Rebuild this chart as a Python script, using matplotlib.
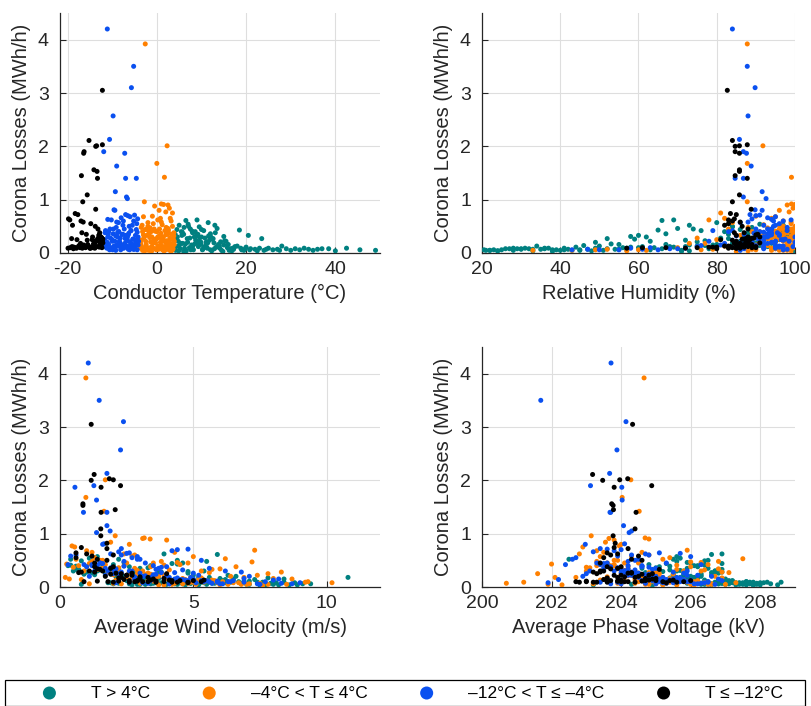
import numpy as np
import matplotlib
matplotlib.use("Agg")
import matplotlib.pyplot as plt
from matplotlib.patches import Rectangle

plt.rcParams['font.family'] = ['Liberation Sans', 'DejaVu Sans']
plt.rcParams['axes.unicode_minus'] = False

# T > 4°C  (temperature, humidity, wind, voltage, losses)
teal_temp = [49.0, 45.5, 42.5, 40.0, 38.5, 37.0, 36.0, 35.0, 34.0, 33.0, 32.0, 31.0, 30.0, 29.0, 28.0, 27.0,
             26.0, 25.0, 24.0, 23.5, 23.0, 22.0, 21.0, 20.5, 20.0, 19.0, 18.5, 18.0, 17.0, 16.0, 15.5, 15.0,
             14.0, 13.5, 13.0, 12.5, 12.0, 11.5, 11.0, 10.5, 10.0, 9.5, 9.0, 8.5, 8.0, 7.5, 7.0, 6.5, 6.0,
             5.5, 5.0, 4.5, 4.3, 4.8, 5.2, 5.8, 6.3, 6.8, 7.3, 7.8, 8.2, 8.8, 9.3, 9.8, 10.3, 10.8, 11.3,
             11.8, 12.3, 12.8, 13.3, 13.8, 14.5, 15.2, 16.5, 17.5, 4.6, 5.4, 6.1, 7.1, 8.6, 9.6, 4.2, 14.8,
             16.8, 19.5, 22.5, 10.2, 6.6, 11.2, 12.0, 27.5,
             4.4, 5.0, 5.6, 6.2, 6.9, 7.4, 8.0, 8.7, 9.2, 9.9, 10.6, 11.4, 12.1, 12.9, 13.7, 14.3, 15.8, 17.2,
             18.8, 20.8, 4.9, 5.7, 6.4, 7.6, 8.4, 9.1, 10.0, 11.0, 12.6, 14.1, 4.1, 6.0, 7.9, 9.4, 11.6, 13.1,
             15.0, 16.2, 19.8, 24.5]
teal_rh = [22, 25, 28, 24, 30, 27, 33, 21, 35, 31, 38, 26, 40, 29, 34, 42,
           23, 37, 45, 52, 36, 47, 32, 60, 44, 39, 65, 50, 41, 55, 63, 58,
           46, 70, 73, 59, 67, 80, 49, 76, 62, 84, 69, 53, 88, 74, 91, 66, 95,
           82, 97, 99, 93, 86, 78, 90, 71, 83, 64, 79, 57, 87, 68, 75, 54, 81, 61,
           72, 48, 85, 58, 67, 43, 77, 52, 61, 98, 94, 89, 84, 96, 92, 100, 38,
           33, 28, 24, 45, 73, 56, 20.5, 22,
           96, 91, 88, 99, 85, 93, 72, 97, 83, 80, 69, 90, 94, 66, 75, 87, 60, 55,
           49, 41, 100, 98, 92, 63, 95, 89, 86, 77, 81, 57, 99, 71, 97, 84, 92, 90,
           73, 51, 36, 30]
teal_wind = [3.2, 4.1, 5.6, 2.7, 6.2, 3.8, 4.9, 7.1, 2.2, 5.3, 6.8, 1.9, 4.4, 8.1, 3.1, 5.8,
             2.6, 7.6, 4.0, 1.2, 6.4, 3.5, 8.8, 0.6, 5.1, 9.4, 4.4, 2.9, 6.0, 3.7, 5.0, 1.6,
             7.3, 2.4, 0.4, 4.8, 3.3, 1.4, 6.6, 2.0, 5.4, 0.8, 3.9, 7.8, 2.6, 4.6, 1.1, 5.9, 3.0,
             0.3, 2.2, 4.2, 3.6, 6.3, 1.8, 5.2, 7.0, 2.8, 4.3, 8.4, 3.4, 1.5, 6.1, 2.3, 5.7, 3.8, 7.4,
             0.9, 4.7, 2.1, 6.9, 3.2, 5.5, 1.3, 4.5, 2.5, 0.5, 10.8, 5.5, 4.4, 3.4, 4.8, 2.9, 7.7,
             8.6, 3.0, 5.2, 2.0, 8.9, 6.3, 4.6, 0.8,
             1.7, 3.1, 0.7, 5.0, 2.4, 1.0, 4.1, 3.3, 2.0, 6.0, 7.1, 2.7, 1.4, 5.4, 4.6, 2.9, 6.7, 7.9,
             5.8, 4.3, 8.2, 0.6, 3.5, 9.1, 1.9, 4.0, 1.2, 6.2, 3.7, 8.4, 2.2, 7.5, 0.4, 5.6, 2.8, 1.6,
             6.5, 8.0, 3.6, 4.9]
teal_volt = [207.9, 208.3, 208.6, 207.6, 207.2, 208.1, 207.4, 207.0, 206.9, 207.8, 206.6, 207.3, 206.4, 207.5, 206.8, 205.9,
             207.1, 206.2, 205.6, 206.7, 207.7, 205.3, 206.5, 206.9, 205.8, 207.0, 206.3, 205.4, 206.0, 205.2, 206.6, 205.7,
             206.1, 205.9, 205.5, 206.8, 205.0, 205.6, 206.3, 204.8, 205.8, 206.4, 206.9, 205.4, 205.1, 206.0, 205.7, 206.6, 204.6,
             206.2, 202.5, 205.3, 205.0, 204.9, 205.6, 206.1, 205.2, 204.7, 206.5, 205.9, 206.8, 205.4, 207.1, 204.5, 206.3, 205.1, 206.7,
             205.8, 207.3, 205.0, 206.2, 206.9, 207.5, 205.5, 206.4, 207.2, 206.7, 206.0, 205.6, 206.5, 206.1, 205.2, 204.3, 207.8,
             208.0, 207.4, 208.5, 206.8, 203.2, 207.6, 207.0, 206.3,
             206.3, 205.7, 206.8, 205.3, 206.0, 206.9, 207.0, 205.5, 206.5, 206.2, 207.2, 205.9, 206.7, 207.4, 206.4, 205.8, 207.6, 207.9,
             208.2, 207.3, 206.6, 205.4, 206.1, 207.7, 205.6, 206.3, 206.9, 205.0, 206.6, 207.1, 205.9, 204.9, 206.4, 205.7, 206.8, 206.2,
             207.0, 206.5, 208.0, 206.9]
teal_loss = [0.05, 0.06, 0.09, 0.04, 0.08, 0.08, 0.07, 0.05, 0.07, 0.09, 0.06, 0.08, 0.05, 0.08, 0.13, 0.07,
             0.06, 0.09, 0.05, 0.27, 0.09, 0.07, 0.08, 0.33, 0.11, 0.06, 0.43, 0.13, 0.09, 0.16, 0.22, 0.31,
             0.14, 0.46, 0.52, 0.26, 0.36, 0.57, 0.20, 0.42, 0.30, 0.49, 0.62, 0.17, 0.38, 0.45, 0.54, 0.61, 0.35,
             0.40, 0.52, 0.44, 0.12, 0.22, 0.08, 0.18, 0.05, 0.27, 0.10, 0.15, 0.06, 0.32, 0.12, 0.21, 0.07, 0.28, 0.09,
             0.24, 0.04, 0.19, 0.11, 0.16, 0.05, 0.23, 0.08, 0.12, 0.30, 0.18, 0.48, 0.50, 0.40, 0.29, 0.05, 0.03,
             0.04, 0.05, 0.04, 0.06, 0.04, 0.10, 0.06, 0.05,
             0.25, 0.14, 0.33, 0.09, 0.20, 0.28, 0.12, 0.24, 0.35, 0.16, 0.11, 0.19, 0.30, 0.08, 0.13, 0.21, 0.10, 0.07,
             0.09, 0.06, 0.04, 0.39, 0.17, 0.06, 0.30, 0.22, 0.44, 0.14, 0.27, 0.09, 0.35, 0.03, 0.41, 0.18, 0.32, 0.38,
             0.15, 0.05, 0.08, 0.07]

# -4°C < T <= 4°C
orange_temp = [-2.6, 2.3, 0.0, 1.7, -2.8, 1.0, 2.5, -0.5, 1.5, 2.8, 0.5, 2.0, -1.0, 3.5, -3.0, 0.8,
               3.2, -2.0, 1.2, -1.5, 2.6, -3.5, 0.2, 3.8, -0.8, 1.8, -2.3, 2.9, -1.8, 0.6, 3.0, -3.2,
               1.4, -0.3, 2.2, -2.5, 0.9, 3.3, -1.2, 1.9, -3.7, 0.3, 2.7, -0.6, 3.6, -2.9, 1.1, -1.9,
               2.4, 0.1, -3.4, 3.9, -1.1, 1.6, -2.2, 2.1, -0.1, 3.4, -3.9, 0.7, 2.9, -2.7, 1.3, -1.4,
               3.1, 0.4, -3.1, 2.2, -0.9, 1.7, -2.4, 3.7, -1.6, 0.0, 2.5, -3.3, 1.0, 3.5, -0.4, 2.0,
               -2.1, 0.9, 3.0, -1.3, 1.5, -3.6, 2.6, 0.2, -0.7, 3.8,
               -3.8, -3.0, -2.2, -1.4, -0.6, 0.2, 1.0, 1.8, 2.6, 3.4, -3.5, -2.7, -1.9, -1.1, -0.3, 0.5, 1.3, 2.1,
               2.9, 3.7, -3.2, -2.4, -1.6, -0.8, 0.0, 0.8, 1.6, 2.4, 3.2, 3.9, -3.9, -2.0, -0.2, 1.4, 3.0, -1.2,
               0.6, 2.2, -2.6, 3.6]
orange_rh = [87.8, 91.8, 87.8, 99.1, 87.8, 99.1, 98.0, 100, 100, 99.5, 96, 98.5, 90, 81, 95, 82,
             97, 84, 92, 93, 99, 88, 78, 96, 99, 94, 86, 75, 97, 83, 100, 91,
             95, 80, 98, 94, 90, 99.5, 87, 100, 77, 97, 93, 100, 89, 98, 85, 96,
             79, 99, 92, 100, 94, 88, 100, 91, 76, 97, 99, 95, 62, 57, 49, 43,
             33, 52, 60, 70, 73, 86, 82, 100, 98, 93, 100, 96, 99, 97, 95, 92,
             99, 100, 94, 89, 97, 100, 95, 91, 98, 99,
             99, 100, 97, 98, 96, 100, 99, 94, 100, 98, 100, 95, 99, 92, 100, 97, 90, 100,
             99, 96, 98, 100, 93, 99, 100, 95, 100, 97, 99, 100, 88, 100, 99, 96, 100, 85,
             98, 100, 97, 94]
orange_wind = [0.97, 1.70, 0.97, 1.65, 2.07, 3.16, 3.38, 4.00, 3.1, 1.9, 2.6, 0.45, 7.3, 0.55, 1.0, 4.3,
               2.8, 5.0, 6.2, 7.2, 0.25, 3.8, 2.4, 6.6, 1.3, 4.5, 5.7, 8.3, 2.2, 3.5, 7.8, 0.7,
               5.3, 2.9, 6.9, 4.0, 8.7, 1.6, 3.3, 9.3, 2.7, 5.9, 4.7, 6.4, 3.0, 1.8, 10.2, 7.0,
               2.0, 4.9, 5.5, 8.0, 0.9, 3.7, 6.1, 2.5, 4.6, 8.5, 3.2, 1.4, 5.1, 3.9, 2.3, 6.8,
               4.2, 7.5, 1.1, 3.6, 0.2, 9.2, 2.1, 0.35, 3.4, 5.6, 4.4, 0.6, 2.7, 1.5, 3.9, 6.0,
               4.8, 0.5, 1.2, 2.4, 7.4, 5.3, 6.5, 3.1, 2.6, 4.1,
               2.1, 1.5, 4.8, 3.0, 2.5, 5.7, 2.0, 6.3, 1.0, 4.0, 3.4, 6.7, 1.7, 4.4, 3.6, 2.9, 7.1, 1.2,
               5.2, 3.3, 7.8, 4.6, 2.2, 5.0, 1.3, 3.7, 5.8, 2.8, 6.0, 3.9, 0.8, 1.6, 4.3, 2.6, 4.9, 7.6,
               3.5, 2.0, 1.1, 5.4]
orange_volt = [204.66, 204.28, 204.03, 204.52, 203.14, 204.69, 204.80, 203.80, 203.65, 203.55, 204.00, 203.95, 205.9, 202.9, 203.3, 203.5,
               204.8, 203.4, 207.5, 206.0, 202.0, 206.8, 202.8, 204.2, 205.4, 206.5, 205.6, 206.9, 203.1, 204.5, 205.1, 203.8,
               206.3, 201.6, 204.9, 204.3, 205.7, 203.7, 204.1, 206.1, 202.1, 205.3, 204.4, 206.7, 203.9, 205.0, 206.4, 204.7,
               200.7, 201.2, 205.8, 204.6, 203.0, 205.2, 206.2, 203.6, 204.0, 207.0, 205.5, 204.2, 201.9, 202.3, 205.0, 204.8,
               206.6, 204.4, 203.2, 205.9, 202.7, 205.4, 203.4, 204.9, 206.0, 207.1, 206.3, 205.2, 204.3, 203.9, 205.6, 206.8,
               204.1, 203.0, 204.6, 203.3, 205.0, 206.9, 207.3, 205.8, 204.5, 206.4,
               204.5, 203.9, 205.3, 204.2, 203.6, 205.7, 204.8, 206.0, 203.5, 205.1, 204.0, 206.4, 203.8, 205.5, 204.7, 204.1, 206.6, 203.3,
               205.8, 204.9, 206.5, 205.4, 204.4, 205.9, 203.7, 204.6, 206.2, 204.0, 205.6, 204.3, 203.5, 203.8, 205.0, 204.2, 205.2, 206.1,
               204.9, 204.4, 203.6, 205.3]
orange_loss = [3.92, 2.01, 1.68, 1.42, 0.96, 0.92, 0.90, 0.88, 0.91, 0.84, 0.80, 0.77, 0.69, 0.75, 0.68, 0.65,
               0.60, 0.57, 0.53, 0.47, 0.43, 0.48, 0.62, 0.38, 0.55, 0.42, 0.33, 0.28, 0.36, 0.45, 0.25, 0.40,
               0.30, 0.25, 0.18, 0.22, 0.15, 0.35, 0.12, 0.10, 0.18, 0.08, 0.14, 0.20, 0.07, 0.28, 0.08, 0.05,
               0.07, 0.09, 0.12, 0.16, 0.30, 0.04, 0.10, 0.19, 0.06, 0.05, 0.24, 0.33, 0.05, 0.04, 0.06, 0.05,
               0.05, 0.07, 0.06, 0.10, 0.18, 0.09, 0.13, 0.15, 0.38, 0.27, 0.46, 0.52, 0.58, 0.50, 0.41, 0.34,
               0.45, 0.37, 0.65, 0.40, 0.22, 0.17, 0.08, 0.30, 0.26, 0.32,
               0.10, 0.34, 0.07, 0.21, 0.45, 0.13, 0.27, 0.05, 0.38, 0.16, 0.24, 0.08, 0.42, 0.11, 0.19, 0.31, 0.06, 0.48,
               0.14, 0.26, 0.05, 0.16, 0.29, 0.09, 0.40, 0.20, 0.12, 0.35, 0.04, 0.22, 0.14, 0.50, 0.07, 0.28, 0.18, 0.03,
               0.11, 0.23, 0.44, 0.09]

# -12°C < T <= -4°C
blue_temp = [-11.1, -5.2, -5.7, -9.8, -10.6, -11.9, -7.2, -9.0, -7.0, -4.6, -9.3, -6.8, -6.6, -9.6, -9.4,
             -7.0, -6.5, -5.0, -11.0, -8.0, -6.0, -4.5, -8.6, -7.5, -5.5, -10.2, -4.3, -9.0, -6.2,
             -11.5, -10.8, -9.7, -8.8, -7.8, -6.9, -5.8, -4.8, -11.7, -10.4, -9.2, -8.3, -7.3, -6.3, -5.3, -4.2,
             -11.3, -10.0, -8.9, -7.7, -6.7, -5.6, -4.7, -11.8, -10.6, -9.5, -8.4, -7.2, -6.1, -5.1, -4.4,
             -11.2, -9.9, -8.1, -6.4, -5.4, -7.9, -10.9, -9.1, -6.6, -4.9, -8.5, -11.6, -5.9, -7.6, -10.3,
             -4.1, -9.4, -6.9, -8.7, -5.2,
             -11.8, -11.0, -10.2, -9.4, -8.6, -7.8, -7.0, -6.2, -5.4, -4.6, -11.4, -10.6, -9.8, -9.0, -8.2, -7.4,
             -6.6, -5.8, -5.0, -4.2, -11.6, -10.8, -10.0, -9.2, -8.4, -7.6, -6.8, -6.0, -5.2, -4.4, -9.6, -7.1,
             -5.6, -10.5, -8.0, -4.8, -6.4, -11.1, -8.8, -5.0]
blue_rh = [84.0, 87.8, 89.8, 88.0, 85.8, 86.8, 87.6, 88.8, 84.7, 86.8, 91.6, 86.8, 92.6, 89.8, 91.6,
           88.5, 90.0, 91.0, 94.0, 93.0, 95.0, 96.0, 86.0, 97.0, 92.0, 99.0, 89.0, 88.0, 94.5,
           79.0, 83.0, 90.0, 95.5, 87.0, 92.5, 98.0, 93.5, 96.5, 91.0, 85.0, 100, 94.0, 89.5, 97.5, 92.0,
           88.0, 95.0, 81.0, 99.5, 90.5, 86.0, 94.0, 75.0, 68.0, 72.0, 78.0, 82.0, 65.0, 61.0, 55.0,
           58.0, 50.0, 43.0, 47.0, 70.0, 92.0, 96.0, 98.0, 100, 96.5, 93.5, 92.0, 88.0, 95.0, 86.5,
           98.5, 63.0, 76.0, 97.0, 94.5,
           90, 93, 87, 95, 91, 85, 96, 92, 89, 94, 86, 97, 93, 90, 88, 95,
           92, 84, 96, 91, 94, 89, 97, 86, 93, 90, 95, 88, 98, 92, 96, 91,
           87, 93, 85, 97, 94, 89, 92, 95]
blue_wind = [1.06, 1.47, 2.38, 2.27, 1.76, 1.27, 0.56, 1.37, 0.88, 1.76, 1.76, 1.88, 1.37, 1.65, 1.60,
             2.3, 4.4, 4.8, 2.5, 2.2, 4.2, 2.7, 2.9, 0.6, 3.0, 1.9, 2.6, 0.4, 5.3,
             0.3, 1.2, 3.2, 4.0, 5.6, 6.2, 0.9, 3.6, 2.0, 6.8, 4.6, 7.1, 1.5, 3.8, 5.0, 8.2,
             3.4, 5.2, 2.8, 6.5, 4.3, 7.7, 1.1, 4.8, 3.1, 5.9, 1.7, 4.9, 8.7, 3.3, 6.0,
             2.6, 7.4, 4.1, 5.7, 2.1, 9.0, 3.7, 2.4, 1.3, 5.5, 3.5, 4.5, 6.9, 2.9, 5.4,
             4.0, 6.3, 3.0, 8.0, 2.3,
             3.4, 1.8, 5.1, 2.5, 1.4, 4.3, 2.0, 5.6, 3.0, 1.6, 2.8, 6.1, 1.9, 4.6, 2.3, 6.9,
             3.5, 1.2, 5.9, 2.6, 1.0, 3.9, 2.2, 7.5, 4.1, 1.7, 5.3, 3.2, 8.3, 2.4, 4.7, 3.8,
             4.4, 1.5, 6.4, 3.6, 2.1, 3.1, 2.7, 5.0]
blue_volt = [203.71, 201.69, 204.14, 203.88, 203.67, 203.12, 204.02, 204.03, 203.68, 203.70, 204.07, 204.30, 204.23, 204.10, 202.97,
             203.4, 204.0, 203.6, 205.7, 203.2, 203.8, 202.7, 206.0, 204.8, 202.6, 204.7, 205.1, 203.9, 204.4,
             202.4, 204.2, 205.3, 204.6, 203.5, 205.9, 206.3, 204.9, 203.0, 205.5, 204.4, 206.6, 203.3, 204.8, 205.8, 206.8,
             204.5, 206.2, 203.6, 205.4, 204.1, 205.7, 202.9, 204.9, 205.2, 203.9, 204.3, 205.6, 206.1, 204.7, 205.0,
             203.4, 204.0, 203.7, 205.3, 201.9, 206.4, 205.0, 204.2, 203.1, 206.9, 204.6, 205.8, 205.2, 204.5, 206.5,
             205.9, 205.1, 202.2, 206.0, 204.3,
             204.6, 203.8, 205.5, 204.2, 203.6, 205.1, 204.0, 205.9, 204.5, 203.5, 204.8, 206.2, 203.9, 205.3, 204.3, 206.5,
             204.7, 203.4, 205.8, 204.1, 203.7, 205.0, 204.4, 206.7, 205.2, 203.9, 205.6, 204.9, 206.3, 204.6, 205.4, 204.0,
             205.7, 203.6, 206.0, 204.8, 204.2, 205.0, 204.1, 205.5]
blue_loss = [4.20, 3.50, 3.10, 2.57, 2.13, 1.90, 1.87, 1.63, 1.40, 1.40, 1.15, 1.05, 1.02, 0.81, 0.80,
             0.72, 0.70, 0.71, 0.63, 0.66, 0.68, 0.55, 0.57, 0.60, 0.52, 0.62, 0.64, 0.58, 0.50,
             0.42, 0.40, 0.45, 0.38, 0.35, 0.30, 0.42, 0.33, 0.25, 0.28, 0.32, 0.20, 0.45, 0.37, 0.26, 0.15,
             0.18, 0.22, 0.15, 0.12, 0.27, 0.10, 0.20, 0.12, 0.08, 0.09, 0.22, 0.18, 0.06, 0.07, 0.06,
             0.09, 0.06, 0.06, 0.07, 0.08, 0.08, 0.35, 0.48, 0.30, 0.12, 0.40, 0.14, 0.16, 0.52, 0.10,
             0.22, 0.10, 0.14, 0.13, 0.60,
             0.12, 0.30, 0.08, 0.22, 0.40, 0.15, 0.33, 0.10, 0.26, 0.44, 0.19, 0.06, 0.36, 0.14, 0.28, 0.09,
             0.23, 0.42, 0.11, 0.30, 0.38, 0.16, 0.25, 0.05, 0.18, 0.35, 0.12, 0.21, 0.07, 0.39, 0.13, 0.27,
             0.17, 0.45, 0.10, 0.24, 0.34, 0.20, 0.30, 0.15]

# T <= -12°C
black_temp = [-12.2, -15.2, -12.2, -13.7, -13.5, -16.4, -16.3, -14.1, -13.4, -16.9, -13.3, -15.6, -16.6, -13.7,
              -19.8, -19.5, -18.3, -17.7, -17.0, -16.5, -18.9, -14.8, -13.8, -13.2, -12.8, -16.8, -13.0,
              -19.4, -18.6, -17.9, -17.2, -16.2, -15.5, -14.6, -14.0, -13.6, -13.1, -12.6, -12.3, -12.1,
              -15.0, -16.0, -14.3, -13.9, -12.9, -12.5, -17.5, -18.0, -14.5, -12.4, -19.1, -15.8,
              -19.9, -19.0, -18.2, -17.4, -16.7, -15.9, -15.3, -14.7, -14.2, -13.8, -13.4, -13.0, -12.7,
              -12.3, -12.1, -18.7, -17.1, -15.6, -14.4, -13.3, -12.9, -12.6, -16.4, -12.2, -14.9]
black_rh = [82.7, 84.0, 87.8, 84.7, 85.8, 85.8, 84.7, 85.8, 85.8, 84.7, 87.8, 85.8, 84.0, 88.8,
            84.5, 83.0, 83.5, 85.0, 84.0, 86.0, 82.0, 83.0, 86.5, 88.0, 87.0, 84.5, 85.0,
            86.0, 79.0, 81.0, 75.0, 88.0, 89.0, 80.0, 87.5, 86.0, 89.5, 84.5, 90.0, 86.5,
            57.0, 61.0, 67.0, 72.0, 78.0, 91.0, 87.0, 85.0, 88.5, 83.5, 87.5, 90.5,
            83, 86, 84, 88, 85, 87, 82, 89, 86, 88, 90, 85, 87,
            89, 91, 80, 86, 84, 88, 87, 90, 83, 85, 88, 86]
black_wind = [1.17, 1.28, 1.85, 1.17, 2.00, 1.54, 2.27, 0.86, 0.86, 2.07, 1.54, 1.53, 1.53, 1.76,
              0.6, 1.0, 0.8, 1.76, 2.0, 1.2, 1.4, 0.6, 1.76, 1.3, 2.0, 1.3, 1.5,
              0.9, 1.4, 2.3, 1.8, 2.9, 3.0, 3.6, 2.5, 4.2, 0.8, 3.3, 5.3, 2.7,
              4.4, 3.9, 2.8, 4.8, 2.2, 1.1, 3.4, 2.6, 4.0, 5.0, 0.7, 1.9,
              2.0, 2.6, 3.1, 2.4, 3.6, 2.9, 4.1, 3.3, 2.2, 1.7, 4.5, 2.7, 3.9,
              1.3, 3.0, 4.8, 2.3, 1.9, 1.6, 2.1, 1.4, 5.4, 3.5, 2.5, 4.2]
black_volt = [204.33, 203.18, 204.19, 203.47, 203.96, 203.80, 204.88, 203.73, 203.77, 203.78, 204.43, 204.40, 203.77, 203.83,
              203.6, 203.9, 203.8, 204.2, 203.7, 204.5, 204.3, 203.5, 204.6, 203.4, 204.0, 203.6, 205.1,
              202.7, 203.0, 203.3, 204.1, 204.7, 205.0, 203.9, 204.8, 205.4, 203.2, 204.4, 205.8, 204.2,
              202.8, 203.0, 205.2, 205.6, 204.6, 203.4, 204.0, 203.6, 204.9, 206.0, 204.3, 203.9,
              203.2, 203.7, 204.0, 203.5, 204.4, 203.9, 204.8, 204.2, 203.6, 204.5, 205.0, 203.8, 204.7,
              203.4, 204.1, 205.3, 203.9, 204.6, 203.5, 204.3, 203.7, 205.5, 204.9, 204.0, 203.3]
black_loss = [3.05, 2.11, 2.03, 2.00, 2.01, 1.87, 1.90, 1.56, 1.53, 1.45, 1.40, 1.09, 0.96, 0.82,
              0.64, 0.62, 0.74, 0.72, 0.60, 0.58, 0.52, 0.55, 0.50, 0.45, 0.38, 0.38, 0.33,
              0.10, 0.11, 0.25, 0.10, 0.12, 0.16, 0.11, 0.22, 0.12, 0.28, 0.18, 0.10, 0.26,
              0.09, 0.10, 0.10, 0.09, 0.11, 0.30, 0.13, 0.09, 0.25, 0.12, 0.27, 0.35,
              0.09, 0.12, 0.10, 0.14, 0.09, 0.11, 0.13, 0.10, 0.17, 0.20, 0.12, 0.22, 0.16,
              0.28, 0.19, 0.08, 0.18, 0.24, 0.30, 0.26, 0.34, 0.13, 0.15, 0.22, 0.09]

groups = [
    ('T > 4°C', '#008080', teal_temp, teal_rh, teal_wind, teal_volt, teal_loss),
    ('–4°C < T ≤ 4°C', '#ff8000', orange_temp, orange_rh, orange_wind, orange_volt, orange_loss),
    ('–12°C < T ≤ –4°C', '#0a50f0', blue_temp, blue_rh, blue_wind, blue_volt, blue_loss),
    ('T ≤ –12°C', '#000000', black_temp, black_rh, black_wind, black_volt, black_loss),
]

xlabels = ['Conductor Temperature (°C)', 'Relative Humidity (%)',
           'Average Wind Velocity (m/s)', 'Average Phase Voltage (kV)']
xlims = [(-21.7, 50), (20, 100), (0, 12), (200, 209)]
xticks = [[-20, 0, 20, 40], [20, 40, 60, 80, 100], [0, 5, 10], [200, 202, 204, 206, 208]]

fig = plt.figure(figsize=(8.12, 7.06), dpi=100)
rects = [[60/812, 1-253/706, 320/812, 240/706],
         [482/812, 1-253/706, 313/812, 240/706],
         [60/812, 1-587/706, 320/812, 240/706],
         [482/812, 1-587/706, 313/812, 240/706]]

txt = '#262626'
for k in range(4):
    ax = fig.add_axes(rects[k])
    for name, col, t, rh, w, v, loss in groups:
        xs = [t, rh, w, v][k]
        ax.scatter(xs, loss, s=13, color=col, edgecolors='none', label=name, zorder=3)
    ax.set_xlim(*xlims[k])
    ax.set_ylim(0, 4.5)
    ax.set_xticks(xticks[k])
    ax.set_yticks([0, 1, 2, 3, 4])
    ax.grid(True, color='#dedede', lw=0.8)
    ax.set_axisbelow(True)
    for s in ['top', 'right']:
        ax.spines[s].set_visible(False)
    for s in ['left', 'bottom']:
        ax.spines[s].set_color(txt)
        ax.spines[s].set_linewidth(0.9)
    ax.tick_params(direction='in', length=4, width=0.8, colors=txt, labelsize=14)
    ax.tick_params(axis='x', pad=6)
    ax.tick_params(axis='y', pad=8)
    ax.set_xlabel(xlabels[k], fontsize=14.5, color=txt, labelpad=4)
    ax.set_ylabel('Corona Losses (MWh/h)', fontsize=14.5, color=txt, labelpad=5)
    if k == 0:
        handles, labels = ax.get_legend_handles_labels()

fig.patches.append(Rectangle((5/812, 0), 800/812, 26/706, transform=fig.transFigure,
                             fill=False, edgecolor='black', lw=0.9))
fig.legend(handles, labels, loc='center', bbox_to_anchor=(412/812, 1-693/706), ncol=4,
           frameon=False, fontsize=12.5, markerscale=2.6, handlelength=1.0,
           handletextpad=1.9, columnspacing=2.9, borderpad=0)

fig.savefig('out.png', dpi=100)
